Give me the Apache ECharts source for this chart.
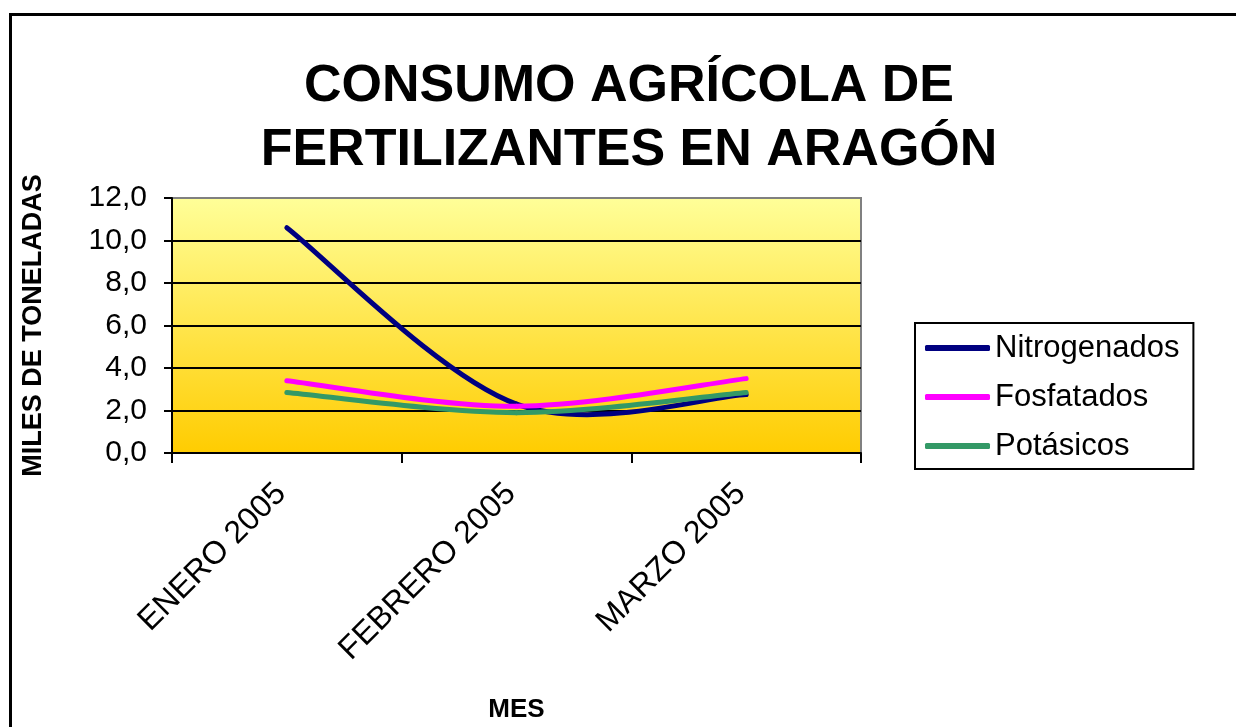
<!DOCTYPE html>
<html>
<head>
<meta charset="utf-8">
<script src="https://cdn.jsdelivr.net/npm/echarts@6/dist/echarts.min.js"></script>
<style>html,body{margin:0;padding:0;background:#fff;}#c{width:1236px;height:727px;}</style>
</head>
<body>
<div id="c"></div>
<script>
var categories = ['ENERO 2005', 'FEBRERO 2005', 'MARZO 2005'];
var nitrogenados = [10.6, 2.3, 2.75];
var fosfatados = [3.4, 2.2, 3.5];
var potasicos = [2.85, 1.9, 2.85];
var yTicksMin = 0, yTicksMax = 12, yTicksStep = 2;

var FONT = '"Liberation Sans", Arial, sans-serif';
var chart = echarts.init(document.getElementById('c'));

// Excel-style smoothed line (Catmull-Rom Bezier) drawn through the chart's own scales
function smoothSeries(name, values, color) {
  return {
    name: name, type: 'custom',
    data: values.map(function (v, i) { return [i, v]; }),
    encode: { x: 0, y: 1 },
    itemStyle: { color: color },
    renderItem: function (params, api) {
      if (params.dataIndex !== 0) return null;
      var pts = values.map(function (v, i) { return api.coord([i, v]); });
      var children = [];
      for (var i = 0; i < pts.length - 1; i++) {
        var p0 = pts[Math.max(i - 1, 0)], p1 = pts[i], p2 = pts[i + 1], p3 = pts[Math.min(i + 2, pts.length - 1)];
        children.push({
          type: 'bezierCurve',
          shape: {
            x1: p1[0], y1: p1[1], x2: p2[0], y2: p2[1],
            cpx1: p1[0] + (p2[0] - p0[0]) / 6, cpy1: p1[1] + (p2[1] - p0[1]) / 6,
            cpx2: p2[0] - (p3[0] - p1[0]) / 6, cpy2: p2[1] - (p3[1] - p1[1]) / 6
          },
          style: { stroke: color, lineWidth: 5, fill: null, lineCap: 'round', lineJoin: 'round' }
        });
      }
      return { type: 'group', children: children };
    }
  };
}

chart.setOption({
  animation: false,
  backgroundColor: '#fff',
  textStyle: { fontFamily: FONT },
  title: {
    text: 'CONSUMO AGRÍCOLA DE\nFERTILIZANTES EN ARAGÓN',
    left: 624, top: 50, textAlign: 'center',
    textStyle: { fontFamily: FONT, fontSize: 52, fontWeight: 'bold', color: '#000', lineHeight: 64 }
  },
  graphic: [{
    type: 'rect', left: 8, top: 12, silent: true,
    shape: { width: 1260, height: 760 },
    style: { fill: 'none', stroke: '#000', lineWidth: 3 }
  }],
  legend: {
    orient: 'vertical', left: 915, top: 323,
    padding: [7, 14, 5, 10], itemGap: 13, itemTextGap: 7,
    borderColor: '#000', borderWidth: 2, backgroundColor: '#fff',
    itemWidth: 65, itemHeight: 6, icon: 'roundRect',
    textStyle: { fontFamily: FONT, fontSize: 31, color: '#000', lineHeight: 36 },
    data: ['Nitrogenados', 'Fosfatados', 'Potásicos']
  },
  grid: {
    left: 172, right: 375, top: 198, bottom: 274, show: true,
    borderColor: '#808080', borderWidth: 2,
    backgroundColor: new echarts.graphic.LinearGradient(0, 0, 0, 1, [
      { offset: 0, color: '#FFFF99' }, { offset: 1, color: '#FFCC00' }
    ])
  },
  xAxis: {
    type: 'category', data: categories, boundaryGap: true,
    name: 'MES', nameLocation: 'middle', nameGap: 244,
    nameTextStyle: { fontFamily: FONT, fontSize: 26, fontWeight: 'bold', color: '#000' },
    axisLine: { lineStyle: { color: '#000', width: 2 } },
    axisTick: { show: true, length: 10, lineStyle: { color: '#000', width: 2 } },
    axisLabel: { rotate: 45, margin: 30, padding: [0, 8, 0, 0], fontFamily: FONT, fontSize: 32, color: '#000' }
  },
  yAxis: {
    type: 'value', min: yTicksMin, max: yTicksMax, interval: yTicksStep,
    name: 'MILES DE TONELADAS', nameLocation: 'middle', nameGap: 125,
    nameTextStyle: { fontFamily: FONT, fontSize: 27, fontWeight: 'bold', color: '#000' },
    axisLine: { show: true, lineStyle: { color: '#000', width: 2 } },
    axisTick: { show: true, length: 8, lineStyle: { color: '#000', width: 2 } },
    axisLabel: { margin: 25, fontFamily: FONT, fontSize: 30, color: '#000',
      formatter: function (v) { return v.toFixed(1).replace('.', ','); } },
    splitLine: { show: true, lineStyle: { color: ['#000','#000','#000','#000','#000','#000','#808080'], width: 2 } }
  },
  series: [
    smoothSeries('Nitrogenados', nitrogenados, '#000080'),
    smoothSeries('Fosfatados', fosfatados, '#FF00FF'),
    smoothSeries('Potásicos', potasicos, '#339966')
  ]
});
</script>
</body>
</html>
